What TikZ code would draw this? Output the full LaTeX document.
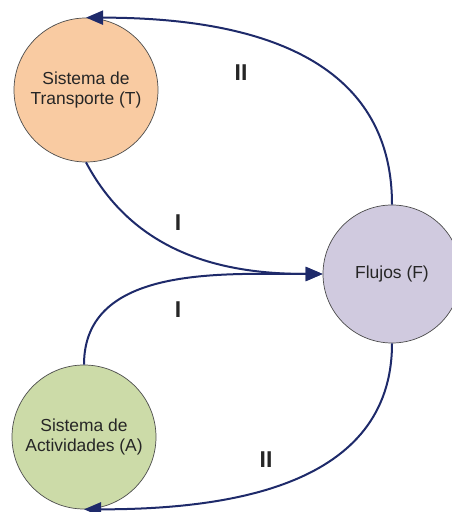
\documentclass[tikz,border=0pt]{standalone}
\usepackage{fontspec}
\setmainfont{Liberation Sans}
\usetikzlibrary{arrows.meta}

\definecolor{transporte}{HTML}{F9CBA2}
\definecolor{flujos}{HTML}{D0CADF}
\definecolor{actividades}{HTML}{CCDBA8}
\definecolor{flecha}{HTML}{1E2A6A}

\begin{document}
\begin{tikzpicture}[%
					x=1bp, y=1bp,
					every node/.style={%
						align=center,
						text=black!85
					},
					sistema/.style={%
						circle,
						draw=black!70,
						line width=0.7bp,
						inner sep=0pt,
						font=\fontsize{17.5}{21}\selectfont
					},
					flujo/.style={%
						draw=flecha,
						line width=2bp,
						-{Triangle[length=17bp,width=14bp]}
					},
					etiqueta/.style={%
						font=\fontsize{23}{23}\bfseries\selectfont
					}
				]

				\path[use as bounding box, clip] (0, 0) rectangle (452, 512);

				\node (transporte) [sistema, fill=transporte, minimum size=144bp] at (86, 422) {Sistema de\\Transporte (T)};
				\node (flujos) [sistema, fill=flujos, minimum size=138bp] at (392, 238) {Flujos (F)};
				\node (actividades) [sistema, fill=actividades, minimum size=144bp] at (84, 75) {Sistema de\\Actividades (A)};

				% relaciones tipo I
				\draw[flujo] (transporte.south) to[out=-62, in=180] (flujos.west);
				\draw[flujo] (actividades.north) to[out=90, in=180] (flujos.west);

				% relaciones tipo II
				\draw[flujo] (flujos.north) to[out=90, in=0, looseness=1.1] (transporte.north);
				\draw[flujo] (flujos.south) to[out=-90, in=0, looseness=1.05] (actividades.south);

				\node (iT) [etiqueta] at (178, 289) {I};
				\node (iA) [etiqueta] at (178, 202) {I};
				\node (iiT) [etiqueta] at (241, 439) {II};
				\node (iiA) [etiqueta] at (266, 52) {II};
			\end{tikzpicture}
\end{document}
